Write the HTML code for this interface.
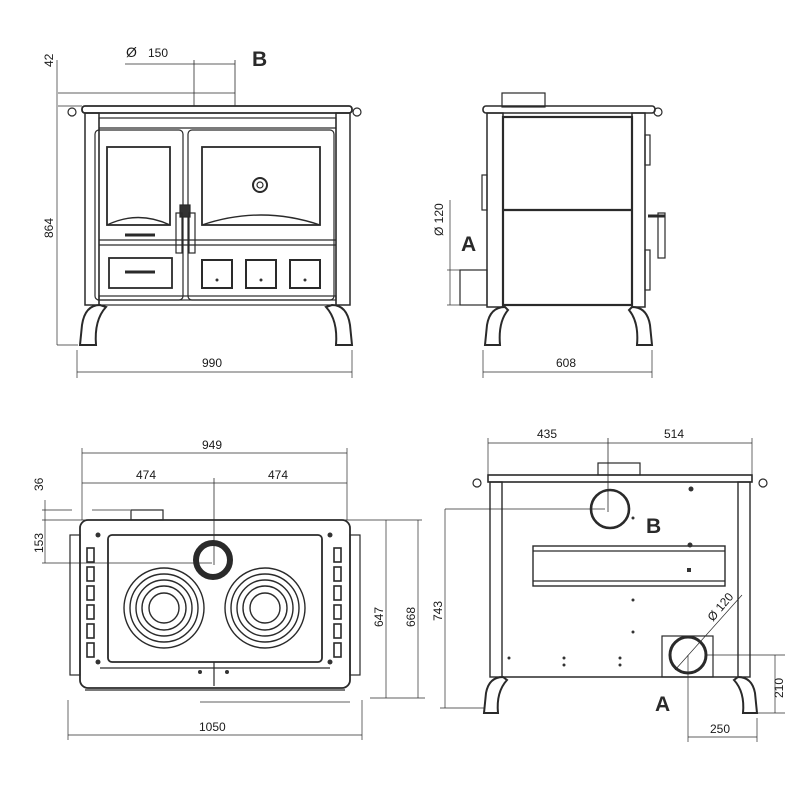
<!DOCTYPE html>
<html><head><meta charset="utf-8"><style>
html,body{margin:0;padding:0;background:#fff;width:800px;height:800px;overflow:hidden}
svg{display:block}
text{font-family:"Liberation Sans",sans-serif;font-size:12px;fill:#1a1a1a}
.b{font-size:21px;font-weight:bold;fill:#2a2a2a}
</style></head><body>
<svg width="800" height="800" viewBox="0 0 800 800" xmlns="http://www.w3.org/2000/svg">
<g fill="none" stroke="#2a2a2a" stroke-width="1.2">
<!-- ============ FRONT VIEW ============ -->
<line x1="58" y1="93" x2="235" y2="93" stroke-width="0.7"/>
<line x1="58" y1="106" x2="82" y2="106" stroke-width="0.7"/>
<line x1="194" y1="60" x2="194" y2="106" stroke-width="0.8"/>
<line x1="235" y1="60" x2="235" y2="106" stroke-width="0.8"/>
<line x1="125" y1="64" x2="235" y2="64" stroke-width="0.7"/>
<line x1="57" y1="60" x2="57" y2="345" stroke-width="0.7"/>
<line x1="57" y1="345" x2="78" y2="345" stroke-width="0.7"/>
<rect x="82" y="106" width="270" height="7" rx="3" stroke-width="1.8"/>
<circle cx="72" cy="112" r="4"/><circle cx="357" cy="112" r="4"/>
<rect x="85" y="113" width="14" height="192" stroke-width="1.5"/>
<rect x="336" y="113" width="14" height="192" stroke-width="1.5"/>
<rect x="99" y="118" width="237" height="182"/>
<line x1="99" y1="128" x2="336" y2="128"/>
<rect x="95" y="130" width="88" height="170" rx="4"/>
<rect x="188" y="130" width="146" height="170" rx="4"/>
<rect x="107" y="147" width="63" height="78" stroke-width="1.8"/>
<rect x="202" y="147" width="118" height="78" stroke-width="1.8"/>
<path d="M107 225 Q138 210 170 225 M202 225 Q261 205 320 225" stroke-width="1.4"/>
<circle cx="260" cy="185" r="7" stroke-width="2"/><circle cx="260" cy="185" r="3"/>
<rect x="180" y="205" width="10" height="12" fill="#333"/>
<rect x="176" y="213" width="6" height="40"/><rect x="189" y="213" width="6" height="40"/>
<line x1="99" y1="240" x2="336" y2="240"/><line x1="99" y1="245" x2="336" y2="245"/>
<path d="M125 235 h30 M125 272 h30" stroke-width="3"/>
<rect x="109" y="258" width="63" height="30" stroke-width="1.8"/>
<rect x="202" y="260" width="30" height="28" stroke-width="2"/>
<rect x="246" y="260" width="30" height="28" stroke-width="2"/>
<rect x="290" y="260" width="30" height="28" stroke-width="2"/>
<rect x="99" y="296" width="237" height="9"/>
<path d="M80 345 L82 325 Q85 305 100 305 L106 307 Q94 320 96 345 Z" stroke-width="2"/>
<path d="M352 345 L350 325 Q347 305 332 305 L326 307 Q338 320 336 345 Z" stroke-width="2"/>
<line x1="77" y1="350" x2="77" y2="378" stroke-width="0.7"/>
<line x1="352" y1="350" x2="352" y2="378" stroke-width="0.7"/>
<line x1="77" y1="372" x2="352" y2="372" stroke-width="0.7"/>
<!-- ============ SIDE VIEW ============ -->
<rect x="502" y="93" width="43" height="14"/>
<rect x="483" y="106" width="172" height="7" rx="3" stroke-width="1.6"/>
<circle cx="658" cy="112" r="4"/>
<rect x="487" y="113" width="16" height="194" stroke-width="1.5"/>
<rect x="632" y="113" width="13" height="194" stroke-width="1.5"/>
<rect x="503" y="117" width="129" height="188" stroke-width="2.2"/>
<line x1="503" y1="210" x2="632" y2="210" stroke-width="2.2"/>
<rect x="482" y="175" width="5" height="35"/>
<rect x="645" y="135" width="5" height="30"/><rect x="645" y="250" width="5" height="40"/>
<rect x="658" y="213" width="7" height="45"/><line x1="648" y1="216" x2="665" y2="216" stroke-width="3"/>
<rect x="460" y="270" width="27" height="35"/>
<line x1="447" y1="270" x2="460" y2="270" stroke-width="0.7"/>
<line x1="447" y1="305" x2="460" y2="305" stroke-width="0.7"/>
<line x1="450" y1="200" x2="450" y2="305" stroke-width="0.7"/>
<path d="M485 345 L487 325 Q490 307 505 307 L508 310 Q498 322 500 345 Z" stroke-width="2"/>
<path d="M652 345 L650 325 Q647 307 632 307 L629 310 Q639 322 637 345 Z" stroke-width="2"/>
<line x1="483" y1="350" x2="483" y2="378" stroke-width="0.7"/>
<line x1="652" y1="350" x2="652" y2="378" stroke-width="0.7"/>
<line x1="483" y1="372" x2="652" y2="372" stroke-width="0.7"/>
<!-- ============ TOP VIEW ============ -->
<line x1="82" y1="448" x2="82" y2="520" stroke-width="0.7"/>
<line x1="347" y1="448" x2="347" y2="520" stroke-width="0.7"/>
<line x1="82" y1="453" x2="347" y2="453" stroke-width="0.7"/>
<line x1="82" y1="483" x2="347" y2="483" stroke-width="0.7"/>
<line x1="214" y1="478" x2="214" y2="565" stroke-width="0.8"/>
<line x1="42" y1="510" x2="72" y2="510" stroke-width="0.7"/>
<line x1="92" y1="510" x2="130" y2="510" stroke-width="0.7"/>
<rect x="131" y="510" width="32" height="10"/>
<line x1="42" y1="520" x2="422" y2="520" stroke-width="0.7"/>
<line x1="42" y1="563" x2="212" y2="563" stroke-width="0.7"/>
<line x1="45" y1="500" x2="45" y2="563" stroke-width="0.7"/>
<rect x="80" y="520" width="270" height="168" rx="8" stroke-width="1.8"/>
<rect x="70" y="535" width="10" height="140"/>
<rect x="350" y="535" width="10" height="140"/>
<rect x="108" y="535" width="214" height="127" rx="4" stroke-width="1.8"/>
<circle cx="213" cy="560" r="17" stroke-width="6"/>
<g stroke-width="1.4">
<circle cx="164" cy="608" r="40"/><circle cx="164" cy="608" r="34"/><circle cx="164" cy="608" r="28"/><circle cx="164" cy="608" r="22"/><circle cx="164" cy="608" r="15"/>
<circle cx="265" cy="608" r="40"/><circle cx="265" cy="608" r="34"/><circle cx="265" cy="608" r="28"/><circle cx="265" cy="608" r="22"/><circle cx="265" cy="608" r="15"/>
</g>
<g stroke-width="1.6">
<rect x="87" y="548" width="7" height="14"/><rect x="87" y="567" width="7" height="14"/><rect x="87" y="586" width="7" height="14"/><rect x="87" y="605" width="7" height="14"/><rect x="87" y="624" width="7" height="14"/><rect x="87" y="643" width="7" height="14"/>
<rect x="334" y="548" width="7" height="14"/><rect x="334" y="567" width="7" height="14"/><rect x="334" y="586" width="7" height="14"/><rect x="334" y="605" width="7" height="14"/><rect x="334" y="624" width="7" height="14"/><rect x="334" y="643" width="7" height="14"/>
</g>
<line x1="100" y1="668" x2="330" y2="668"/><line x1="214" y1="662" x2="214" y2="686"/>
<line x1="85" y1="690" x2="345" y2="690"/>
<line x1="200" y1="702" x2="350" y2="702" stroke-width="0.7"/>
<line x1="68" y1="700" x2="68" y2="740" stroke-width="0.7"/>
<line x1="362" y1="700" x2="362" y2="740" stroke-width="0.7"/>
<line x1="68" y1="735" x2="362" y2="735" stroke-width="0.7"/>
<line x1="386" y1="520" x2="386" y2="698" stroke-width="0.7"/>
<line x1="418" y1="520" x2="418" y2="698" stroke-width="0.7"/>
<line x1="370" y1="698" x2="425" y2="698" stroke-width="0.7"/>
<!-- ============ BACK VIEW ============ -->
<line x1="488" y1="438" x2="488" y2="475" stroke-width="0.7"/>
<line x1="752" y1="438" x2="752" y2="475" stroke-width="0.7"/>
<line x1="488" y1="443" x2="752" y2="443" stroke-width="0.7"/>
<line x1="608" y1="438" x2="608" y2="512" stroke-width="0.8"/>
<rect x="598" y="463" width="42" height="12"/>
<rect x="488" y="475" width="264" height="7" stroke-width="1.6"/>
<circle cx="477" cy="483" r="4"/><circle cx="763" cy="483" r="4"/>
<rect x="490" y="482" width="12" height="195" stroke-width="1.4"/>
<rect x="738" y="482" width="12" height="195" stroke-width="1.4"/>
<line x1="502" y1="677" x2="738" y2="677" stroke-width="1.6"/>
<circle cx="610" cy="509" r="19" stroke-width="2.6"/>
<line x1="445" y1="509" x2="605" y2="509" stroke-width="0.7"/>
<rect x="533" y="546" width="192" height="40" stroke-width="1.4"/>
<line x1="533" y1="551" x2="725" y2="551"/><line x1="533" y1="581" x2="725" y2="581"/>
<rect x="662" y="636" width="51" height="41"/>
<circle cx="688" cy="655" r="18" stroke-width="3"/>
<line x1="675" y1="670" x2="742" y2="595" stroke-width="0.7"/>
<line x1="705" y1="655" x2="785" y2="655" stroke-width="0.7"/>
<line x1="745" y1="713" x2="785" y2="713" stroke-width="0.7"/>
<line x1="775" y1="655" x2="775" y2="713" stroke-width="0.7"/>
<line x1="688" y1="655" x2="688" y2="742" stroke-width="0.7"/>
<line x1="757" y1="718" x2="757" y2="742" stroke-width="0.7"/>
<line x1="688" y1="737" x2="757" y2="737" stroke-width="0.7"/>
<line x1="445" y1="509" x2="445" y2="708" stroke-width="0.7"/>
<line x1="440" y1="708" x2="484" y2="708" stroke-width="0.7"/>
<path d="M484 713 L486 693 Q489 677 503 677 L507 680 Q496 692 498 713 Z" stroke-width="2"/>
<path d="M757 713 L755 693 Q752 677 738 677 L734 680 Q745 692 743 713 Z" stroke-width="2"/>
</g>
<g fill="#333">
<circle cx="691" cy="489" r="2.5"/><circle cx="690" cy="545" r="2.5"/><rect x="687" y="568" width="4" height="4"/>
<circle cx="633" cy="518" r="1.5"/><circle cx="633" cy="600" r="1.5"/><circle cx="633" cy="632" r="1.5"/>
<circle cx="509" cy="658" r="1.5"/><circle cx="564" cy="658" r="1.5"/><circle cx="564" cy="665" r="1.5"/><circle cx="620" cy="658" r="1.5"/><circle cx="620" cy="665" r="1.5"/>
<circle cx="261" cy="280" r="1.5"/><circle cx="305" cy="280" r="1.5"/><circle cx="217" cy="280" r="1.5"/>
<circle cx="98" cy="535" r="2.5"/><circle cx="98" cy="662" r="2.5"/><circle cx="330" cy="535" r="2.5"/><circle cx="330" cy="662" r="2.5"/>
<circle cx="200" cy="672" r="2"/><circle cx="227" cy="672" r="2"/>
</g>
<!-- text -->
<text x="126" y="57" style="font-size:14px">Ø</text><text x="148" y="57">150</text>
<text class="b" x="252" y="66">B</text>
<text transform="translate(53,67) rotate(-90)">42</text>
<text transform="translate(53,238) rotate(-90)">864</text>
<text x="202" y="367">990</text>
<text transform="translate(443,236) rotate(-90)">Ø 120</text>
<text class="b" x="461" y="251">A</text>
<text x="556" y="367">608</text>
<text x="202" y="449">949</text>
<text x="136" y="479">474</text>
<text x="268" y="479">474</text>
<text transform="translate(43,491) rotate(-90)">36</text>
<text transform="translate(43,553) rotate(-90)">153</text>
<text x="199" y="731">1050</text>
<text transform="translate(383,627) rotate(-90)">647</text>
<text transform="translate(415,627) rotate(-90)">668</text>
<text transform="translate(442,621) rotate(-90)">743</text>
<text x="537" y="438">435</text>
<text x="664" y="438">514</text>
<text class="b" x="646" y="533">B</text>
<text transform="translate(713,622) rotate(-50)">Ø 120</text>
<text transform="translate(783,698) rotate(-90)">210</text>
<text x="710" y="733">250</text>
<text class="b" x="655" y="711">A</text>
</svg>
</body></html>
